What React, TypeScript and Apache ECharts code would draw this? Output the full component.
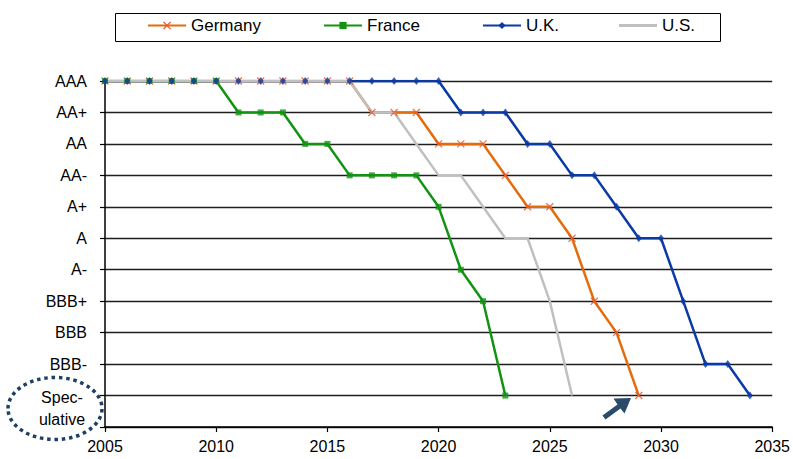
import React, { useEffect, useRef } from "react";
import * as echarts from "echarts";

const START_YEAR = 2005;
const X_MIN = 2005;
const X_MAX = 2035;
const X_STEP = 5;

// Rating scale: index = numeric value on y axis
const yLabels = ["", "Spec-\nulative", "BBB-", "BBB", "BBB+", "A-", "A", "A+", "AA-", "AA", "AA+", "AAA"];

const seriesNames = ["Germany", "France", "U.K.", "U.S."];

// Ratings per year starting 2005 (11 = AAA ... 1 = Speculative)
const germany = [11, 11, 11, 11, 11, 11, 11, 11, 11, 11, 11, 11, 10, 10, 10, 9, 9, 9, 8, 7, 7, 6, 4, 3, 1];
const france = [11, 11, 11, 11, 11, 11, 10, 10, 10, 9, 9, 8, 8, 8, 8, 7, 5, 4, 1];
const uk = [11, 11, 11, 11, 11, 11, 11, 11, 11, 11, 11, 11, 11, 11, 11, 11, 10, 10, 10, 9, 9, 8, 8, 7, 6, 6, 4, 2, 2, 1];
const us = [11, 11, 11, 11, 11, 11, 11, 11, 11, 11, 11, 11, 10, 10, 9, 8, 8, 7, 6, 6, 4, 1];

const FONT = "'Liberation Sans', Arial, sans-serif";
const C_DE = "#E46C0A";
const C_DE_M = "#E8562A";
const C_FR = "#129312";
const C_UK = "#0A3AA5";
const C_US = "#C0C0C0";
const X_SYMBOL = "path://M0,0L10,10M10,0L0,10";

function pairs(arr: number[]) {
  return arr.map((v, i) => [START_YEAR + i, v]);
}

export default function App() {
  const ref = useRef<HTMLDivElement>(null);

  useEffect(() => {
    document.body.style.margin = "0";
    const chart = echarts.init(ref.current!, null, { renderer: "svg" });

    const legendBase = (name: string, left: number, extra: any = {}) => ({
      data: [name],
      left,
      top: 17,
      padding: 0,
      itemWidth: 38,
      itemHeight: 9,
      selectedMode: false,
      textStyle: { fontFamily: FONT, fontSize: 17, color: "#000" },
      ...extra,
    });

    const option: any = {
      animation: false,
      backgroundColor: "#fff",
      textStyle: { fontFamily: FONT },
      grid: { left: 105, right: 19, top: 81, bottom: 32, containLabel: false },
      legend: [
        legendBase(seriesNames[0], 147, { itemStyle: { borderColor: C_DE_M, borderWidth: 1.3 } }),
        legendBase(seriesNames[1], 323),
        legendBase(seriesNames[2], 482),
        legendBase(seriesNames[3], 619, { icon: "rect", itemHeight: 3 }),
      ],
      xAxis: {
        type: "value",
        min: X_MIN,
        max: X_MAX,
        interval: X_STEP,
        axisLine: { show: true, lineStyle: { color: "#000", width: 1.5 } },
        axisTick: { show: true, length: 5, lineStyle: { color: "#000", width: 1.2 } },
        axisLabel: {
          margin: 11,
          fontSize: 16,
          fontFamily: FONT,
          color: "#000",
          formatter: (v: number) => String(v),
        },
        splitLine: { show: false },
      },
      yAxis: {
        type: "value",
        min: 0,
        max: 11,
        interval: 1,
        axisLine: { show: true, lineStyle: { color: "#000", width: 1.5 } },
        axisTick: { show: true, length: 5, lineStyle: { color: "#000", width: 1.2 } },
        axisLabel: {
          margin: 18,
          fontSize: 16,
          fontFamily: FONT,
          color: "#000",
          formatter: (v: number) => (v === 1 ? "" : yLabels[v] || ""),
        },
        splitLine: { show: true, lineStyle: { color: "#1e1e1e", width: 1.4 } },
      },
      series: [
        {
          name: seriesNames[0],
          type: "line",
          data: pairs(germany),
          symbol: X_SYMBOL,
          showSymbol: false,
          symbolSize: 7,
          lineStyle: { color: C_DE, width: 2.5 },
          itemStyle: { color: C_DE_M, borderColor: C_DE_M, borderWidth: 1.3 },
          z: 2,
        },
        {
          name: seriesNames[1],
          type: "line",
          data: pairs(france),
          symbol: "rect",
          showSymbol: false,
          symbolSize: 6,
          lineStyle: { color: C_FR, width: 2.5 },
          itemStyle: { color: C_FR },
          z: 2,
        },
        {
          name: seriesNames[2],
          type: "line",
          data: pairs(uk),
          symbol: "diamond",
          showSymbol: false,
          symbolSize: [6, 8],
          lineStyle: { color: C_UK, width: 2.5 },
          itemStyle: { color: C_UK },
          z: 2,
        },
        {
          name: seriesNames[3],
          type: "line",
          data: pairs(us),
          symbol: "none",
          lineStyle: { color: C_US, width: 2.5 },
          itemStyle: { color: C_US },
          z: 2,
        },
        {
          name: "de-markers",
          type: "scatter",
          data: pairs(germany),
          symbol: X_SYMBOL,
          symbolSize: 7,
          itemStyle: { color: C_DE_M, borderColor: C_DE_M, borderWidth: 1.3 },
          silent: true,
          z: 3,
        },
        {
          name: "fr-markers",
          type: "scatter",
          data: pairs(france),
          symbol: "rect",
          symbolSize: 6,
          itemStyle: { color: C_FR },
          silent: true,
          z: 3,
        },
        {
          name: "uk-markers",
          type: "scatter",
          data: pairs(uk),
          symbol: "diamond",
          symbolSize: [6, 8],
          itemStyle: { color: C_UK },
          silent: true,
          z: 3,
        },
      ],
      graphic: [
        {
          type: "rect",
          shape: { x: 115.5, y: 13.5, width: 605, height: 28 },
          style: { fill: "none", stroke: "#000", lineWidth: 1 },
          silent: true,
        },
        {
          type: "text",
          x: 62,
          y: 408,
          style: {
            text: yLabels[1],
            font: `16px ${FONT}`,
            fill: "#000",
            textAlign: "center",
            textVerticalAlign: "middle",
            lineHeight: 22,
          },
          silent: true,
        },
        {
          type: "ellipse",
          shape: { cx: 55, cy: 408.5, rx: 47, ry: 31 },
          style: { fill: "none", stroke: "#1e3f66", lineWidth: 3.5, lineDash: [3.5, 3.8] },
          silent: true,
          z: 10,
        },
        {
          type: "polygon",
          shape: {
            points: [
              [602.5, 415.5],
              [617.5, 404.5],
              [613.5, 398.5],
              [631, 398],
              [624.5, 413.5],
              [620.5, 408.5],
              [605.5, 419.5],
            ],
          },
          style: { fill: "#2B4B6B" },
          silent: true,
          z: 10,
        },
      ],
    };

    chart.setOption(option);
    return () => chart.dispose();
  }, []);

  return <div ref={ref} style={{ width: 793, height: 459 }} />;
}
